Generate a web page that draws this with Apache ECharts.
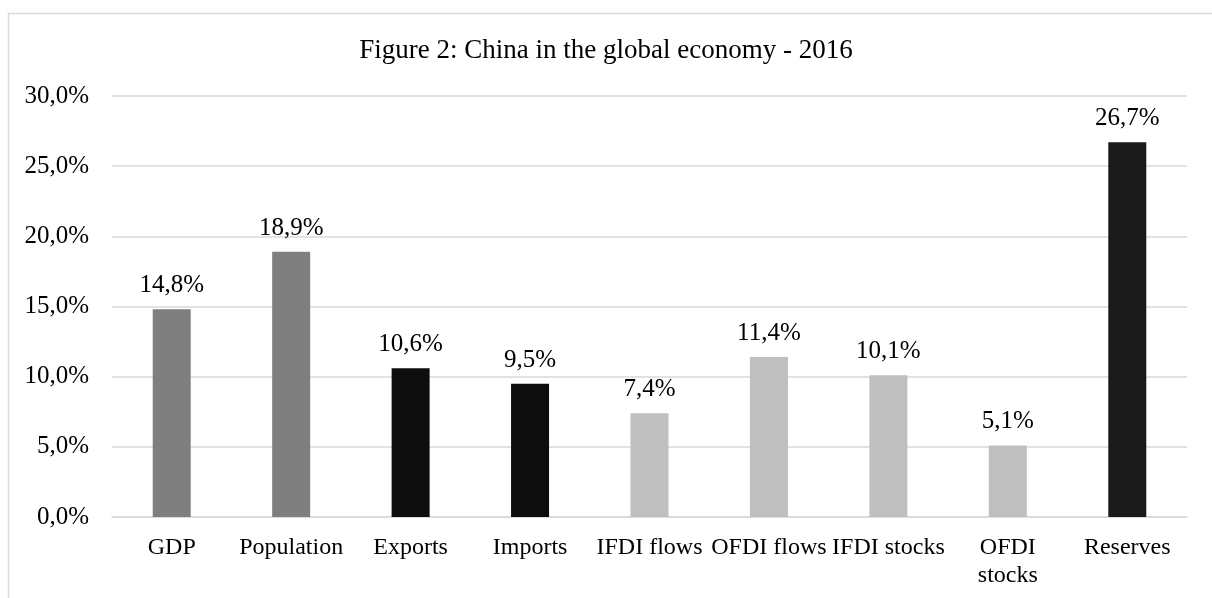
<!DOCTYPE html>
<html>
<head>
<meta charset="utf-8">
<script src="https://cdn.jsdelivr.net/npm/echarts@6/dist/echarts.min.js"></script>
<style>
  html, body { margin: 0; padding: 0; background: #fff; }
  #chart { width: 1212px; height: 598px; }
</style>
</head>
<body>
<div id="chart"></div>
<script>
// China's share of the world total, 2016 (percent)
const categories = ['GDP', 'Population', 'Exports', 'Imports', 'IFDI flows', 'OFDI flows', 'IFDI stocks', 'OFDI\nstocks', 'Reserves'];
const shares = [14.8, 18.9, 10.6, 9.5, 7.4, 11.4, 10.1, 5.1, 26.7];
const yTicks = [0, 5, 10, 15, 20, 25, 30];

// bar shades: economy size, trade, investment, reserves
const shade = ['#7f7f7f', '#7f7f7f', '#0d0d0d', '#0d0d0d', '#bfbfbf', '#bfbfbf', '#bfbfbf', '#bfbfbf', '#1a1a1a'];

const fmt = v => v.toFixed(1).replace('.', ',') + '%';
const font = '"Liberation Serif", "Times New Roman", serif';

const chart = echarts.init(document.getElementById('chart'), null, { renderer: 'canvas' });
chart.setOption({
  animation: false,
  backgroundColor: '#fff',
  textStyle: { fontFamily: font, color: '#000' },
  graphic: [{
    type: 'rect',
    left: 6, top: 11,
    shape: { width: 1230, height: 620 },
    style: { fill: 'none', stroke: '#d9d9d9', lineWidth: 1.5 },
    silent: true
  }],
  title: {
    text: 'Figure 2: China in the global economy - 2016',
    left: 'center',
    top: 32,
    textStyle: { fontFamily: font, fontSize: 27, fontWeight: 'normal', color: '#000' }
  },
  grid: { left: 112, right: 25, top: 96, bottom: 81, containLabel: false },
  xAxis: {
    type: 'category',
    data: categories,
    axisLine: { lineStyle: { color: '#d9d9d9', width: 1.5 } },
    axisTick: { show: false },
    axisLabel: {
      fontFamily: font, fontSize: 24, color: '#000', margin: 17,
      interval: 0, lineHeight: 28
    }
  },
  yAxis: {
    type: 'value',
    min: yTicks[0],
    max: yTicks[yTicks.length - 1],
    interval: yTicks[1] - yTicks[0],
    axisLine: { show: false },
    axisTick: { show: false },
    splitLine: { lineStyle: { color: '#d9d9d9', width: 1.5 } },
    axisLabel: {
      fontFamily: font, fontSize: 25, color: '#000', margin: 23,
      formatter: v => fmt(v)
    }
  },
  series: [{
    type: 'bar',
    barWidth: 38,
    data: shares.map((v, i) => ({ value: v, itemStyle: { color: shade[i] } })),
    label: {
      show: true,
      position: 'top',
      distance: 11,
      fontFamily: font, fontSize: 25, color: '#000',
      formatter: p => fmt(p.value)
    }
  }]
});
</script>
</body>
</html>
